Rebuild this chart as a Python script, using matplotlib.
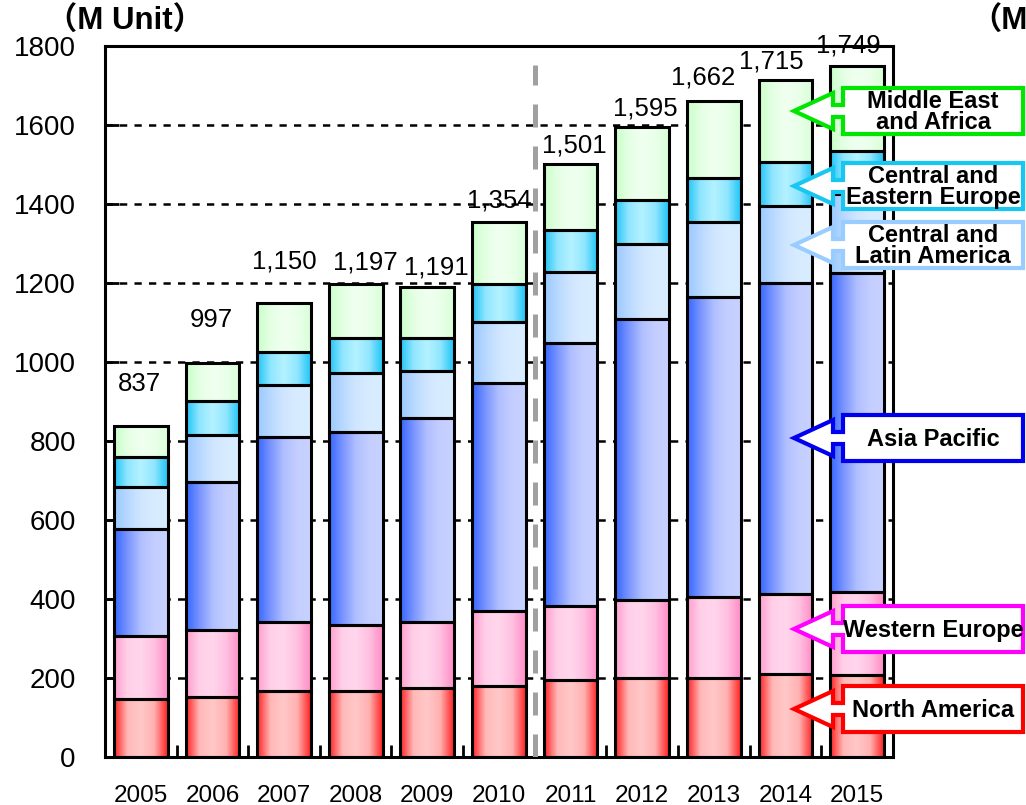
import numpy as np
import matplotlib.pyplot as plt
from matplotlib.colors import LinearSegmentedColormap
from matplotlib.patches import Polygon

plt.rcParams['font.family'] = ['Liberation Sans', 'Noto Sans CJK JP', 'DejaVu Sans']

years = ['2005', '2006', '2007', '2008', '2009', '2010',
         '2011', '2012', '2013', '2014', '2015']
north_america = [147, 152, 167, 167, 175, 180, 195, 200, 200, 210, 208]
western_europe = [159, 169, 175, 167, 167, 190, 187, 197, 205, 203, 210]
asia_pacific = [271, 375, 468, 489, 516, 577, 666, 712, 760, 787, 807]
latin_america = [107, 119, 132, 149, 119, 154, 180, 190, 189, 195, 200]
eastern_europe = [76, 86, 83, 88, 83, 97, 106, 111, 112, 111, 109]
mideast_africa = [77, 96, 125, 137, 131, 156, 167, 185, 196, 209, 215]

series = [north_america, western_europe, asia_pacific,
          latin_america, eastern_europe, mideast_africa]
region_names = ['North America', 'Western Europe', 'Asia Pacific',
                'Central and\nLatin America', 'Central and\nEastern Europe',
                'Middle East\nand Africa']

# horizontal gradient stops for each segment
gradients = [
    ['#ff2020', '#ffb8b8', '#ffc8c8', '#ffb0b0', '#ff2020'],
    ['#ff9ccc', '#ffd0e8', '#ffd6ec', '#ffc0e0', '#ff8cc6'],
    ['#3366ff', '#7a94ff', '#b0bfff', '#c4ceff', '#c8d2ff'],
    ['#99c8ff', '#b8d8ff', '#d0e6ff', '#d8ecff', '#d8ecff'],
    ['#1ec4f6', '#90e6ff', '#b4f2ff', '#90e6ff', '#1ec4f6'],
    ['#c8ffc8', '#e4ffe4', '#f0fff0', '#eaffea', '#d8ffd8'],
]
callout_colors = ['#ff0000', '#ff00ff', '#0000ee', '#99ccff', '#18c6f2', '#00e600']
callout_tops = [686, 606, 415, 222, 163, 88]

# label offsets (pixels) from bar top
label_dx = [-1, -1, 0, 10, 9, 0, 4, 3, -11, -14, -9]
label_dy = [42, 43, 41, 22, 19, 22, 19, 19, 23, 18, 21]

fig = plt.figure(figsize=(10.26, 8.05), dpi=100)
ax = fig.add_axes([0.1023, 0.0596, 0.768, 0.8832])

x = np.arange(len(years))
bottom = np.zeros(len(years))
grad = np.linspace(0, 1, 256).reshape(1, -1)
for vals, stops in zip(series, gradients):
    bars = ax.bar(x, vals, 0.75, bottom=bottom, facecolor='none',
                  edgecolor='black', linewidth=2.2, zorder=3)
    cmap = LinearSegmentedColormap.from_list('g', stops)
    for b in bars:
        ax.imshow(grad, cmap=cmap, aspect='auto', zorder=2,
                  interpolation='bicubic',
                  extent=[b.get_x(), b.get_x() + b.get_width(),
                          b.get_y(), b.get_y() + b.get_height()])
    bottom += np.array(vals)

totals = bottom
for i, t in enumerate(totals):
    ax.annotate(f'{int(t):,}', (x[i], t), xytext=(label_dx[i], label_dy[i]),
                textcoords='offset pixels', ha='center', va='center',
                fontsize=18.5)

# forecast divider
ax.plot([5.5, 5.5], [0, 1752], color='#a0a0a0', lw=3.6,
        linestyle=(0, (4.6, 3.8)), zorder=4)

ax.set_xlim(-0.5, 10.5)
ax.set_ylim(0, 1800)
ax.set_yticks(range(0, 1801, 200))
ax.yaxis.grid(True, linestyle=(0, (2.9, 2.9)), color='black', lw=1.8)
ax.set_axisbelow(True)
ax.set_xticks(x, years)
ax.set_xticks(np.arange(0.5, 10, 1), minor=True)
ax.tick_params(axis='x', which='major', length=0, pad=20, labelsize=17.5)
ax.tick_params(axis='x', which='minor', direction='in', length=9, width=2)
ax.tick_params(axis='y', direction='in', length=10, width=2, pad=21, labelsize=20)
for s in ax.spines.values():
    s.set_linewidth(2.2)

# overlay in pixel units for titles and callouts
ov = fig.add_axes([0, 0, 1, 1], zorder=5)
ov.set_xlim(0, 1026)
ov.set_ylim(805, 0)
ov.axis('off')

ov.text(46, 22, '（M Unit）', fontsize=22.5, fontweight='bold', va='center', ha='left')
ov.text(970, 22, '（M', fontsize=22.5, fontweight='bold', va='center', ha='left')

left, right, tip, h = 843, 1023, 794, 46
for name, color, top in zip(region_names, callout_colors, callout_tops):
    mid = top + h / 2
    hb = left - 10
    pts = [(right, top), (left, top), (left, mid - 6), (hb, mid - 6),
           (hb, mid - 18), (tip, mid), (hb, mid + 18), (hb, mid + 6),
           (left, mid + 6), (left, top + h), (right, top + h)]
    ov.add_patch(Polygon(pts, closed=True, fc='white', ec=color, lw=3,
                         joinstyle='miter'))
    ov.text((left + right) / 2, mid + 1, name, ha='center', va='center',
            fontsize=17, fontweight='bold', linespacing=0.85)

fig.savefig('out.png', dpi=100)
